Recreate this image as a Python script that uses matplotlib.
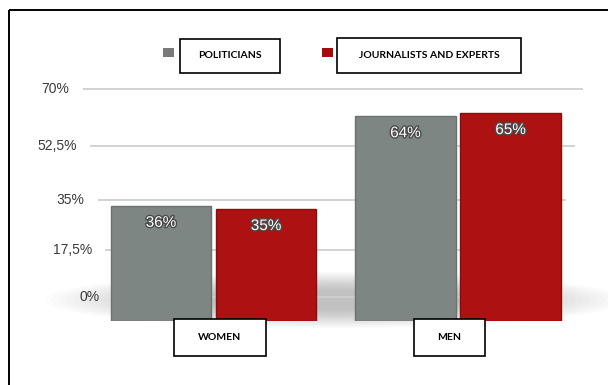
import numpy as np
import matplotlib
matplotlib.use("Agg")
import matplotlib.pyplot as plt
import matplotlib.patheffects as pe
from matplotlib.patches import Rectangle, Ellipse

# data
groups = ["WOMEN", "MEN"]
series = ["POLITICIANS", "JOURNALISTS AND EXPERTS"]
politicians = [36, 64]
journalists = [35, 65]
tick_values = [0, 17.5, 35, 52.5, 70]
tick_labels = ["0%", "17,5%", "35%", "52,5%", "70%"]

GRAY = "#7e8683"
RED = "#ad1111"
W, H = 608, 385

plt.rcParams["font.family"] = ["Liberation Sans", "DejaVu Sans"]

fig = plt.figure(figsize=(W / 100, H / 100), dpi=100)


def px_axes(x0, y_top, x1, y_bottom, **kw):
    return fig.add_axes([x0 / W, 1 - y_bottom / H, (x1 - x0) / W, (y_bottom - y_top) / H], **kw)


# soft floor shadow behind the bars
back = px_axes(0, 0, W, H, zorder=0)
back.set_xlim(0, W)
back.set_ylim(H, 0)
back.axis("off")
for i in range(24):
    back.add_patch(Ellipse((335, 300), 580 - i * 14, 56 - i * 1.6,
                           color="#808080", alpha=0.022, lw=0))

# grid with a slight perspective: spacing grows towards the top
k = 0.00222


def fwd(v):
    v = np.asarray(v, dtype=float)
    return v + k * v * v


def inv(h):
    h = np.asarray(h, dtype=float)
    return (-1 + np.sqrt(np.clip(1 + 4 * k * h, 0, None))) / (2 * k)


grid = px_axes(0, 89, W, 297, zorder=1)
grid.set_yscale("function", functions=(fwd, inv))
grid.set_ylim(0, 70)
grid.set_xlim(0, W)
grid.axis("off")
grid.patch.set_alpha(0)
for v, lab in zip(tick_values, tick_labels):
    grid.hlines(v, 112 - 0.41 * v, 550 + 0.47 * v, color="#cfcfcf", lw=1.3, clip_on=False)
    grid.text(100 - 0.44 * v, v, lab, ha="right", va="center", fontsize=10,
              color="#3a3a3a", clip_on=False)

# bars
ax = px_axes(0, 65, W, 321, zorder=2)
ax.patch.set_alpha(0)
ax.set_ylim(0, 80)
ax.set_xlim(-213.5 / 244.5, (W - 213.5) / 244.5)
ax.axis("off")

x = np.arange(len(groups))
off, bw = 0.215, 0.41
shadow = [pe.withStroke(linewidth=2, foreground="#4a4a4a")]
for vals, dx, col, edge in [(politicians, -off, GRAY, "#6a716f"),
                            (journalists, off, RED, "#8c0c0c")]:
    bars = ax.bar(x + dx, vals, width=bw, color=col, edgecolor=edge, lw=1.0)
    for b, v in zip(bars, vals):
        ax.annotate(f"{v}%", (b.get_x() + b.get_width() / 2, v),
                    xytext=(0, -17), textcoords="offset pixels",
                    ha="center", va="center", fontsize=11, color="white",
                    path_effects=shadow)

# frame, legend and category boxes
top = px_axes(0, 0, W, H, zorder=3)
top.set_xlim(0, W)
top.set_ylim(H, 0)
top.axis("off")
top.patch.set_alpha(0)
top.add_patch(Rectangle((8.5, 10), 640, 420, fill=False, ec="black", lw=1.4))

bold = dict(fontsize=7.5, fontweight="bold", family=["Lato", "DejaVu Sans"],
            ha="center", va="center", color="black")


def boxed(x0, y0, x1, y1, label):
    top.add_patch(Rectangle((x0, y0), x1 - x0, y1 - y0, fc="white", ec="black", lw=1.2))
    top.text((x0 + x1) / 2, (y0 + y1) / 2, label, **bold)


top.add_patch(Rectangle((163, 48), 11, 9, color="#7a7a7a", lw=0))
boxed(180, 39, 280, 73, series[0])
top.add_patch(Rectangle((322, 48), 11, 9, color="#a50d0d", lw=0))
boxed(337, 38, 521, 73, series[1])

boxed(174, 319, 266, 356, groups[0])
boxed(414, 319, 485, 356, groups[1])

fig.savefig("out.png", dpi=100)
